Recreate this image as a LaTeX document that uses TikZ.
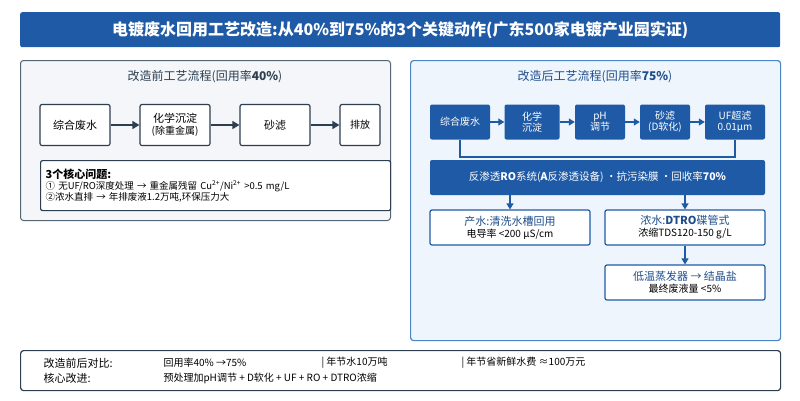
\documentclass[tikz,border=0pt]{standalone}
\usepackage{fontspec}
\setmainfont{Noto Sans CJK SC}
\usetikzlibrary{arrows.meta}
\definecolor{tb}{HTML}{1F5AA6}
\definecolor{dk}{HTML}{2C3E50}
\definecolor{lp}{HTML}{F4F6FA}
\definecolor{rp}{HTML}{EEF5FD}
\definecolor{rb}{HTML}{4A86C8}
\definecolor{tx}{HTML}{1F4E8C}
\begin{document}
\begin{tikzpicture}[x=1pt,y=-1pt,
 wb/.style={draw=dk,line width=1.2pt,fill=white,rounded corners=2pt,align=center,font=\fontsize{11}{13}\selectfont},
 bb/.style={fill=tb,rounded corners=2pt,align=center,text=white,font=\fontsize{10}{11}\selectfont},
 ob/.style={draw=tb,line width=1.2pt,fill=white,rounded corners=2pt,align=center,font=\fontsize{10}{12}\selectfont},
 ar/.style={dk,line width=1.5pt,-{Triangle[length=7pt,width=8pt]}},
 br/.style={tb,line width=1.2pt}]
\useasboundingbox (0,0) rectangle (800,400);
\fill[white] (0,0) rectangle (800,400);
\node[fill=tb,rounded corners=2pt,minimum width=760pt,minimum height=35pt,text=white,font=\fontsize{16}{18}\selectfont\bfseries,anchor=north west] (title) at (20,12) {电镀废水回用工艺改造:从40\%到75\%的3个关键动作(广东500家电镀产业园实证)};
% left panel
\node[draw=dk!80,line width=1pt,fill=lp,rounded corners=3pt,minimum width=370pt,minimum height=160pt,anchor=north west] (lp) at (20,60) {};
\node[font=\fontsize{12}{14}\selectfont,text=dk] (lt) at (205,77) {改造前工艺流程(回用率\textbf{40\%})};
\node[wb,minimum width=70pt,minimum height=41pt] (a1) at (75,125) {综合废水};
\node[wb,minimum width=70pt,minimum height=41pt,font=\fontsize{11}{12}\selectfont] (a2) at (175,125) {化学沉淀\\{\fontsize{10}{12}\selectfont(除重金属)}};
\node[wb,minimum width=70pt,minimum height=41pt] (a3) at (275,125) {砂滤};
\node[wb,minimum width=40pt,minimum height=41pt,font=\fontsize{10}{12}\selectfont] (a4) at (360,125) {排放};
\draw[ar] (a1) -- (a2); \draw[ar] (a2) -- (a3); \draw[ar] (a3) -- (a4);
\node[wb,minimum width=350pt,minimum height=50pt,anchor=north west,align=left,text width=340pt,font=\fontsize{9.5}{11}\selectfont] (pb) at (40,160) {{\fontsize{11}{14}\selectfont\bfseries 3个核心问题:}\\① 无UF/RO深度处理 → 重金属残留 Cu\textsuperscript{2+}/Ni\textsuperscript{2+} >0.5 mg/L\\②浓水直排 → 年排废液1.2万吨,环保压力大};
% right panel
\node[draw=rb,line width=1.2pt,fill=rp,rounded corners=3pt,minimum width=370pt,minimum height=280pt,anchor=north west] (rp) at (410,60) {};
\node[font=\fontsize{12}{14}\selectfont,text=tx] (rt) at (595,77) {改造后工艺流程(回用率\textbf{75\%})};
\node[bb,minimum width=60pt,minimum height=35pt] (b1) at (460,122) {综合废水};
\node[bb,minimum width=55pt,minimum height=35pt] (b2) at (532,122) {化学\\沉淀};
\node[bb,minimum width=50pt,minimum height=35pt] (b3) at (600,122) {pH\\调节};
\node[bb,minimum width=50pt,minimum height=35pt] (b4) at (665,122) {砂滤\\(D软化)};
\node[bb,minimum width=60pt,minimum height=35pt] (b5) at (735,122) {UF超滤\\0.01μm};
\foreach \p/\q in {b1/b2,b2/b3,b3/b4,b4/b5}{\draw[br,-{Triangle[length=6pt,width=7pt]}] (\p) -- (\q);}
\coordinate (c1) at (460,157); \coordinate (c2) at (735,157);
\draw[br] (b1.south) -- (c1) -- (c2) -- (b5.south);
\node[bb,minimum width=335pt,minimum height=35pt,font=\fontsize{10.5}{12}\selectfont] (ro) at (597.5,177.5) {反渗透\textbf{RO}系统(\textbf{A}反渗透设备) ·抗污染膜 ·回收率\textbf{70\%}};
\node[ob,minimum width=160pt,minimum height=35pt] (p1) at (510,227.5) {{\fontsize{11}{13}\selectfont\color{tx}产水:清洗水槽回用}\\电导率 <200 μS/cm};
\node[ob,minimum width=160pt,minimum height=35pt] (p2) at (685,227.5) {{\fontsize{11}{13}\selectfont\color{tx}浓水:\textbf{DTRO}碟管式}\\浓缩TDS120-150 g/L};
\node[ob,minimum width=160pt,minimum height=35pt] (p3) at (685,282.5) {{\fontsize{11}{13}\selectfont\color{tx}低温蒸发器 → 结晶盐}\\最终废液量 <5\%};
\draw[br,-{Triangle[length=6pt,width=7pt]}] (p1.north|-ro.south) -- (p1.north);
\draw[br,-{Triangle[length=6pt,width=7pt]}] (p2.north|-ro.south) -- (p2.north);
\draw[br,-{Triangle[length=6pt,width=7pt]}] (p2.south) -- (p3.north);
% bottom
\node[draw=dk,line width=1.2pt,fill=white,rounded corners=3pt,minimum width=760pt,minimum height=40pt,anchor=north west] (bt) at (20,350) {};
\begin{scope}[every node/.style={anchor=west,font=\fontsize{10}{12}\selectfont}]
\node (l1) at (40,363) {\fontsize{11}{12}\selectfont 改造前后对比:};
\node (l2) at (40,378) {\fontsize{11}{12}\selectfont 核心改进:};
\node (v1) at (160,363) {回用率40\% →75\%};
\node (v2) at (318,363) {| 年节水10万吨};
\node (v3) at (458,363) {| 年节省新鲜水费 ≈100万元};
\node (v4) at (160,378) {预处理加pH调节 + D软化 + UF + RO + DTRO浓缩};
\end{scope}
\end{tikzpicture}
\end{document}
